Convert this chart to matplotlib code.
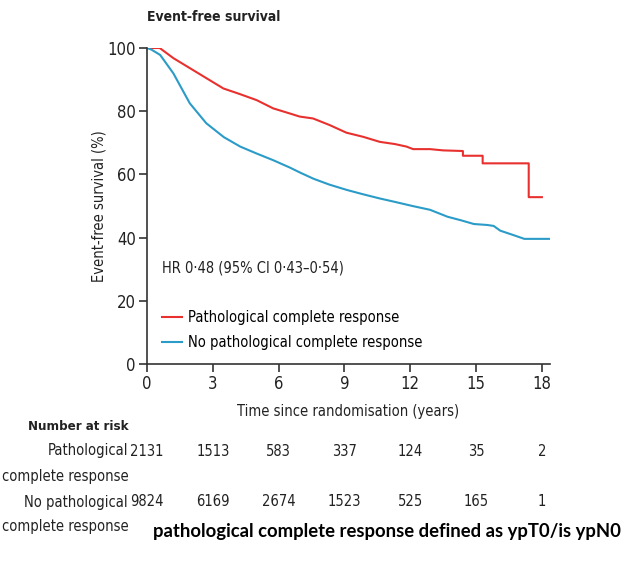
import numpy as np
import matplotlib
matplotlib.use("Agg")
from matplotlib import pyplot as plt
from matplotlib import font_manager

# values
pcr_t = [0, 0.58, 1.2, 1.96, 2.72, 3.48, 4.24, 5.0, 5.75, 6.5, 6.96, 7.57, 8.33, 9.09,
         9.85, 10.61, 11.3, 11.83, 12.13, 12.9, 13.5, 14.4, 14.4, 15.3, 15.3, 17.4, 17.4, 18.0]
pcr_s = [100, 100, 96.8, 93.6, 90.4, 87.2, 85.4, 83.5, 80.9, 79.3, 78.3, 77.7, 75.6, 73.2,
         71.9, 70.3, 69.6, 68.8, 68.0, 68.0, 67.6, 67.4, 65.9, 65.9, 63.5, 63.5, 52.8, 52.8]

nopcr_t = [0, 0.2, 0.6, 1.2, 1.95, 2.7, 3.5, 4.25, 5.0, 5.75, 6.5, 7.0, 7.6, 8.3, 9.1, 9.8,
           10.6, 11.3, 12.1, 12.9, 13.7, 14.3, 14.9, 15.5, 15.8, 16.1, 16.7, 17.2, 18.4]
nopcr_s = [100, 99.5, 97.8, 92, 82.5, 76.2, 71.8, 68.8, 66.6, 64.5, 62.2, 60.5, 58.6, 56.8,
           55.1, 53.8, 52.4, 51.3, 50, 48.8, 46.6, 45.5, 44.3, 44, 43.7, 42.2, 40.8, 39.6, 39.6]

risk_times = [0, 3, 6, 9, 12, 15, 18]
risk_pcr = [2131, 1513, 583, 337, 124, 35, 2]
risk_nopcr = [9824, 6169, 2674, 1523, 525, 165, 1]

red = "#e8312f"
blue = "#2b9bc8"
txt = "#222222"

# pick a narrow face if one is installed
fonts = font_manager.fontManager.ttflist
names = {f.name for f in fonts}
condensed = [f for f in fonts if f.name == "DejaVu Sans" and "ondensed" in str(f.stretch) + f.fname]
if "Liberation Sans Narrow" in names:
    plt.rcParams['font.family'] = ["Liberation Sans Narrow", "DejaVu Sans"]
    fs, tfs = 12, 13
elif condensed:
    plt.rcParams['font.family'] = ["DejaVu Sans"]
    plt.rcParams['font.stretch'] = "condensed"
    fs, tfs = 10, 12
else:
    plt.rcParams['font.family'] = ["Liberation Sans", "DejaVu Sans"]
    fs, tfs = 9.5, 11

W, H = 626, 570
fig = plt.figure(figsize=(W / 100, H / 100), dpi=100)
# axes box in pixels: x0=147, x1=550, y(100)=48, y(0)=364
ax = fig.add_axes([147 / W, 1 - 364 / H, (550 - 147) / W, (364 - 48) / H])

ax.plot(pcr_t, pcr_s, color=red, lw=1.5, label="Pathological complete response")
ax.plot(nopcr_t, nopcr_s, color=blue, lw=1.5, label="No pathological complete response")

ax.set_xlim(0, 18.37)
ax.set_ylim(0, 100)
ax.set_xticks(risk_times)
ax.set_yticks([0, 20, 40, 60, 80, 100])
for s in ["top", "right"]:
    ax.spines[s].set_visible(False)
for s in ["left", "bottom"]:
    ax.spines[s].set_color("#333333")
    ax.spines[s].set_linewidth(1.2)
ax.tick_params(direction="out", length=6, width=1.2, color="#333333",
               labelsize=tfs, labelcolor=txt, pad=2)
ax.set_xlabel("Time since randomisation (years)", fontsize=fs + 0.5, color=txt, labelpad=8)
ax.set_ylabel("Event-free survival (%)", fontsize=fs + 0.5, color=txt, labelpad=1)

ax.text(0.7, 30.5, "HR 0·48 (95% CI 0·43–0·54)", fontsize=fs + 0.5, color=txt, va="center")
ax.legend(loc="upper left", bbox_to_anchor=(0.022, 0.19), frameon=False, fontsize=fs + 0.5,
          handlelength=1.4, handletextpad=0.4, labelspacing=0.7, borderaxespad=0.0)

fig.text(147 / W, 1 - 17 / H, "Event-free survival", fontsize=fs, fontweight="bold",
         color=txt, va="center", ha="left")

# number at risk table
tr = ax.get_xaxis_transform()
def ya(py):
    return (364 - py) / 316

fig.text(28 / W, 1 - 427 / H, "Number at risk", fontsize=fs - 0.5, fontweight="bold",
         color=txt, va="center")
fig.text(128 / W, 1 - 451 / H, "Pathological", fontsize=fs + 0.5, color=txt, va="center", ha="right")
fig.text(2 / W, 1 - 476 / H, "complete response", fontsize=fs + 0.5, color=txt, va="center")
fig.text(128 / W, 1 - 502 / H, "No pathological", fontsize=fs + 0.5, color=txt, va="center", ha="right")
fig.text(2 / W, 1 - 527 / H, "complete response", fontsize=fs + 0.5, color=txt, va="center")
for t, a, b in zip(risk_times, risk_pcr, risk_nopcr):
    ax.text(t, ya(451), str(a), transform=tr, fontsize=fs + 0.5, color=txt,
            ha="center", va="center", clip_on=False)
    ax.text(t, ya(502), str(b), transform=tr, fontsize=fs + 0.5, color=txt,
            ha="center", va="center", clip_on=False)

fig.text(153 / W, 1 - 532 / H, "pathological complete response defined as ypT0/is ypN0",
         fontsize=13.3, fontweight="bold", family=["Lato", "Open Sans", "DejaVu Sans"],
         fontstretch="normal", color="black", va="center", ha="left")

fig.savefig("out.png", dpi=100, facecolor="white")
